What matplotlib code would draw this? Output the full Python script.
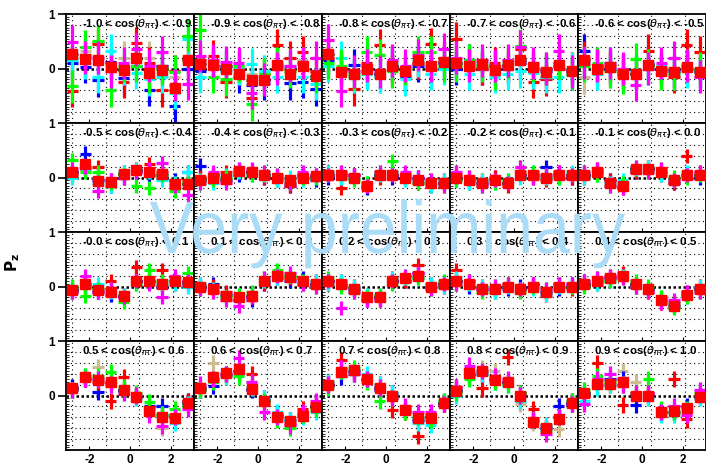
import numpy as np
import matplotlib.pyplot as plt
from matplotlib.ticker import MultipleLocator
from matplotlib.textpath import TextPath
from matplotlib.patches import PathPatch
from matplotlib.font_manager import FontProperties
from matplotlib.transforms import Affine2D, IdentityTransform

plt.rcParams['font.family'] = ['Liberation Sans', 'DejaVu Sans']
plt.rcParams['mathtext.fontset'] = 'dejavusans'

# cos(theta) slice bounds, one panel each (row-major, 4 x 5)
cos_lo = ['-1.0', '-0.9', '-0.8', '-0.7', '-0.6',
          '-0.5', '-0.4', '-0.3', '-0.2', '-0.1',
          '-0.0', '0.1', '0.2', '0.3', '0.4',
          '0.5', '0.6', '0.7', '0.8', '0.9']
cos_hi = ['-0.9', '-0.8', '-0.7', '-0.6', '-0.5',
          '-0.4', '-0.3', '-0.2', '-0.1', '0.0',
          '0.1', '0.2', '0.3', '0.4', '0.5',
          '0.6', '0.7', '0.8', '0.9', '1.0']

# combined Pz per phi bin (red squares)
pz_comb = [
    [0.27, 0.17, 0.16, 0.03, -0.03, 0.20, -0.09, -0.03, -0.35, 0.15],
    [0.09, 0.06, 0.00, -0.11, -0.22, -0.21, 0.06, -0.10, 0.04, -0.13],
    [0.27, -0.07, -0.11, 0.00, -0.10, 0.05, -0.05, 0.15, 0.05, 0.12],
    [0.10, 0.05, 0.08, -0.02, 0.06, 0.15, 0.02, -0.07, 0.06, -0.05],
    [0.16, 0.00, 0.02, -0.11, -0.11, 0.07, -0.04, -0.07, 0.02, -0.07],
    [0.10, 0.25, -0.06, -0.09, 0.07, 0.13, 0.10, 0.07, -0.12, -0.12],
    [-0.05, 0.00, -0.02, 0.12, 0.10, 0.05, 0.00, -0.05, 0.00, 0.02],
    [0.05, 0.05, 0.00, -0.15, 0.05, 0.05, 0.00, -0.05, -0.10, -0.10],
    [0.00, -0.05, -0.10, -0.05, -0.10, 0.05, 0.05, 0.00, 0.05, 0.05],
    [0.05, 0.10, -0.10, -0.15, 0.15, 0.15, 0.10, -0.05, 0.05, 0.05],
    [-0.07, 0.05, -0.07, -0.10, -0.18, 0.10, 0.11, 0.04, 0.10, 0.08],
    [0.00, -0.05, -0.17, -0.20, -0.18, 0.10, 0.20, 0.17, 0.10, 0.05],
    [0.10, 0.05, -0.05, -0.20, -0.20, 0.10, 0.15, 0.20, 0.00, 0.05],
    [0.10, 0.05, -0.05, -0.05, 0.00, -0.05, 0.00, -0.10, 0.00, 0.00],
    [0.05, 0.10, 0.15, 0.20, 0.05, -0.05, -0.25, -0.35, -0.15, -0.05],
    [0.14, 0.34, 0.29, 0.25, 0.10, -0.03, -0.28, -0.39, -0.41, -0.14],
    [0.14, 0.34, 0.41, 0.48, 0.12, -0.10, -0.39, -0.46, -0.37, -0.22],
    [0.19, 0.43, 0.46, 0.31, 0.14, 0.00, -0.26, -0.41, -0.41, -0.14],
    [0.09, 0.41, 0.45, 0.29, 0.24, 0.00, -0.49, -0.60, -0.43, -0.14],
    [0.04, 0.22, 0.22, 0.25, 0.00, 0.00, -0.31, -0.29, -0.23, -0.03],
]

# individual samples
pz_red = [
    [-0.41, 0.25, 0.45, 0.10, -0.25, 0.46, 0.10, -0.40, -0.05, 0.20],
    [0.15, 0.23, -0.25, 0.00, -0.54, -0.10, 0.43, 0.20, 0.30, -0.05],
    [0.20, -0.05, -0.38, 0.10, 0.43, 0.00, -0.10, 0.10, 0.45, 0.20],
    [0.55, 0.10, 0.00, 0.10, 0.05, 0.35, -0.25, -0.20, 0.10, 0.00],
    [0.20, 0.00, 0.05, -0.05, -0.10, 0.33, 0.00, -0.15, 0.43, 0.30],
    [0.05, 0.15, 0.20, -0.05, 0.10, 0.15, 0.25, 0.10, -0.10, -0.05],
    [0.00, 0.05, 0.10, 0.10, 0.10, 0.00, -0.05, -0.15, 0.05, 0.05],
    [0.10, -0.20, 0.05, -0.15, 0.00, 0.10, 0.05, -0.10, -0.15, -0.05],
    [0.05, -0.10, -0.05, 0.00, -0.15, 0.10, 0.00, -0.05, 0.10, 0.00],
    [0.00, 0.15, -0.05, -0.20, 0.10, 0.20, 0.05, -0.10, 0.40, 0.10],
    [-0.10, 0.00, -0.05, 0.10, -0.15, 0.36, 0.10, 0.30, 0.05, 0.10],
    [0.05, 0.00, -0.10, -0.25, -0.20, 0.05, 0.25, 0.15, 0.05, 0.10],
    [0.05, 0.10, 0.00, -0.15, -0.25, 0.15, 0.10, 0.40, 0.05, 0.00],
    [0.30, 0.10, 0.00, -0.10, 0.05, -0.05, 0.05, -0.15, 0.05, -0.05],
    [0.10, 0.05, 0.20, 0.25, 0.00, -0.10, -0.30, -0.30, -0.10, 0.00],
    [0.10, 0.30, 0.25, -0.10, 0.34, 0.00, -0.25, -0.35, -0.40, -0.10],
    [0.10, 0.30, 0.35, 0.45, 0.40, -0.15, -0.35, -0.50, -0.25, -0.15],
    [0.25, 0.65, 0.40, 0.30, 0.20, -0.27, -0.30, -0.74, -0.35, -0.15],
    [0.15, 0.35, 0.13, 0.30, 0.71, 0.05, -0.25, -0.55, -0.40, -0.10],
    [0.00, 0.59, 0.20, -0.18, 0.05, 0.05, -0.30, 0.30, -0.44, 0.00],
]
pz_green = [
    [-0.33, 0.40, 0.50, -0.40, 0.05, 0.05, -0.15, 0.00, -0.06, 0.60],
    [0.70, -0.15, -0.20, 0.05, -0.66, -0.10, 0.10, -0.05, 0.10, -0.15],
    [0.10, 0.05, -0.10, 0.30, 0.25, -0.05, 0.00, 0.30, 0.30, 0.05],
    [0.05, 0.15, 0.05, -0.10, 0.10, 0.42, 0.05, 0.00, 0.10, -0.10],
    [0.05, 0.10, -0.05, -0.16, 0.17, 0.05, -0.10, -0.10, 0.05, 0.00],
    [0.32, 0.10, 0.10, -0.10, 0.05, -0.15, -0.20, 0.05, -0.25, -0.10],
    [-0.10, -0.05, 0.00, 0.15, 0.05, 0.10, 0.05, -0.10, 0.00, 0.00],
    [0.05, 0.10, -0.05, -0.10, 0.10, 0.30, 0.05, -0.10, -0.05, -0.15],
    [-0.05, 0.00, -0.15, -0.10, -0.05, 0.20, 0.10, 0.05, 0.00, 0.05],
    [0.10, 0.05, -0.15, -0.10, 0.20, 0.10, 0.15, 0.00, 0.00, 0.05],
    [0.00, -0.18, -0.05, -0.05, -0.29, 0.05, 0.30, 0.10, 0.15, 0.25],
    [-0.05, -0.10, -0.20, -0.15, -0.10, 0.15, 0.30, 0.20, 0.10, 0.00],
    [0.15, 0.00, -0.10, -0.20, -0.15, 0.05, 0.20, 0.15, -0.05, 0.10],
    [0.05, 0.10, -0.10, 0.00, 0.05, -0.10, 0.00, -0.05, 0.05, 0.00],
    [0.00, 0.15, 0.10, 0.15, 0.10, 0.00, -0.20, -0.40, -0.20, -0.10],
    [0.10, 0.35, 0.35, 0.43, 0.15, 0.05, -0.12, -0.35, -0.25, -0.20],
    [0.10, 0.25, 0.40, 0.35, 0.25, -0.10, -0.45, -0.59, -0.35, -0.25],
    [0.15, 0.45, 0.50, 0.25, -0.10, -0.05, -0.30, -0.40, -0.45, -0.10],
    [0.05, 0.30, 0.45, 0.25, 0.20, 0.05, -0.45, -0.65, -0.40, -0.10],
    [0.10, 0.35, 0.25, 0.20, 0.05, 0.30, -0.25, -0.30, -0.25, 0.05],
]
pz_blue = [
    [0.10, 0.03, -0.22, 0.12, -0.17, 0.05, -0.39, 0.05, -0.68, 0.00],
    [-0.05, 0.05, 0.05, -0.15, -0.30, -0.27, 0.05, -0.27, -0.25, -0.38],
    [0.15, 0.00, 0.06, -0.05, -0.10, 0.05, -0.15, 0.05, 0.00, 0.10],
    [0.00, 0.15, 0.00, 0.05, 0.00, 0.10, 0.00, -0.05, 0.05, -0.10],
    [0.33, 0.05, 0.00, -0.10, -0.05, 0.10, -0.05, -0.05, 0.00, -0.05],
    [0.10, 0.44, -0.05, -0.15, 0.00, 0.10, 0.05, 0.05, -0.05, 0.10],
    [0.22, 0.05, -0.05, 0.05, 0.10, 0.00, 0.00, -0.15, 0.05, -0.05],
    [0.00, 0.05, 0.05, -0.20, 0.05, 0.00, 0.00, 0.00, -0.10, -0.10],
    [0.00, -0.05, -0.10, 0.00, -0.10, 0.05, 0.05, 0.20, 0.05, 0.00],
    [0.05, 0.10, -0.05, -0.15, 0.10, 0.15, 0.10, -0.10, 0.05, 0.00],
    [-0.05, 0.05, -0.10, -0.15, -0.20, 0.10, 0.10, 0.00, 0.10, 0.05],
    [0.00, 0.05, -0.15, -0.25, -0.25, 0.05, 0.15, 0.10, 0.15, 0.05],
    [0.10, 0.05, -0.05, -0.25, -0.20, 0.10, 0.10, 0.25, 0.00, 0.05],
    [0.10, 0.00, -0.05, -0.05, -0.05, 0.00, 0.05, -0.10, -0.05, 0.05],
    [0.05, 0.10, 0.15, 0.20, 0.05, -0.05, -0.25, -0.35, -0.15, -0.05],
    [0.15, 0.30, 0.07, 0.25, 0.10, 0.00, -0.20, -0.20, -0.35, -0.10],
    [0.10, 0.17, 0.40, 0.45, 0.10, -0.05, -0.35, -0.45, -0.35, -0.20],
    [0.20, 0.35, 0.45, 0.30, 0.10, 0.05, -0.25, -0.45, -0.40, -0.15],
    [0.10, 0.40, 0.40, 0.30, 0.25, 0.05, -0.45, -0.60, -0.20, -0.15],
    [0.05, 0.20, 0.30, 0.30, -0.18, 0.00, -0.30, -0.30, -0.20, 0.00],
]
pz_cyan = [
    [0.15, 0.10, -0.15, 0.33, 0.00, -0.08, -0.20, -0.15, -0.45, 0.55],
    [-0.15, 0.10, -0.05, 0.00, 0.08, -0.05, -0.15, 0.05, -0.15, -0.28],
    [0.05, 0.20, -0.15, -0.10, -0.15, 0.10, -0.20, 0.15, -0.10, 0.00],
    [0.10, -0.10, 0.10, -0.15, -0.10, -0.05, -0.08, -0.15, -0.15, 0.00],
    [0.10, -0.10, 0.10, -0.05, -0.05, 0.00, 0.05, -0.10, -0.05, -0.05],
    [0.00, 0.15, -0.10, -0.15, 0.10, 0.15, 0.10, -0.05, -0.10, 0.10],
    [-0.05, -0.10, 0.05, 0.10, 0.05, 0.05, -0.05, 0.00, -0.05, 0.05],
    [0.10, 0.00, 0.00, -0.10, 0.05, 0.10, -0.05, -0.05, -0.15, -0.05],
    [-0.05, -0.10, -0.05, -0.10, -0.05, 0.00, 0.10, 0.00, 0.00, 0.10],
    [0.00, 0.05, -0.10, -0.05, 0.15, 0.20, 0.05, -0.05, 0.10, 0.05],
    [-0.10, 0.00, 0.05, -0.10, -0.15, 0.05, 0.15, 0.05, 0.05, 0.00],
    [0.05, -0.05, -0.20, -0.15, -0.15, 0.10, 0.15, 0.20, 0.05, 0.10],
    [0.05, 0.10, 0.00, -0.15, -0.15, 0.15, 0.15, 0.15, 0.05, 0.00],
    [0.15, 0.05, 0.00, -0.10, 0.00, -0.05, -0.05, -0.15, 0.00, 0.00],
    [0.10, 0.05, 0.10, 0.20, 0.00, -0.05, -0.20, -0.30, -0.20, 0.00],
    [0.10, 0.35, 0.30, 0.20, 0.05, -0.05, -0.30, -0.35, -0.50, -0.15],
    [0.10, 0.30, 0.35, 0.40, 0.15, -0.05, -0.30, -0.45, -0.40, -0.30],
    [0.25, 0.45, 0.40, 0.40, 0.20, 0.05, -0.25, -0.50, -0.54, -0.10],
    [0.00, 0.45, 0.40, 0.25, 0.20, -0.10, -0.45, -0.55, -0.40, -0.10],
    [-0.10, 0.15, 0.20, 0.20, 0.05, -0.05, -0.35, -0.35, -0.28, -0.05],
]
pz_magenta = [
    [0.49, 0.20, 0.20, -0.05, 0.10, 0.35, 0.05, 0.30, -0.30, -0.28],
    [0.23, 0.15, 0.12, 0.10, -0.45, -0.20, 0.00, 0.05, 0.10, 0.20],
    [0.52, -0.41, -0.05, 0.05, -0.05, 0.15, 0.05, 0.25, 0.05, 0.35],
    [0.20, 0.05, 0.15, 0.05, 0.15, 0.40, 0.10, 0.00, 0.33, -0.05],
    [0.10, 0.05, 0.10, 0.00, -0.30, 0.00, 0.10, 0.20, 0.05, -0.15],
    [0.15, 0.20, -0.24, -0.05, 0.00, 0.10, 0.15, 0.26, -0.15, -0.33],
    [-0.10, 0.10, -0.10, 0.15, 0.15, 0.10, 0.05, -0.10, 0.10, 0.05],
    [0.05, 0.10, 0.05, -0.15, 0.10, 0.05, 0.10, 0.00, -0.05, -0.15],
    [0.10, 0.00, -0.15, -0.05, -0.10, 0.20, 0.00, 0.05, 0.10, 0.05],
    [0.10, 0.15, -0.15, -0.20, 0.20, 0.10, 0.15, -0.05, 0.05, 0.10],
    [-0.10, 0.20, -0.10, -0.05, -0.20, 0.10, 0.05, -0.20, 0.20, 0.10],
    [-0.05, -0.10, -0.25, -0.35, -0.20, 0.15, 0.20, 0.25, 0.05, 0.00],
    [0.10, -0.40, -0.10, -0.25, -0.25, 0.10, 0.20, 0.25, -0.05, 0.05],
    [0.05, 0.10, -0.05, 0.00, 0.05, -0.05, 0.05, -0.05, 0.05, 0.05],
    [0.10, 0.15, 0.20, 0.15, 0.00, -0.10, -0.30, -0.25, -0.10, -0.10],
    [0.10, 0.30, 0.30, 0.20, 0.05, 0.00, -0.35, -0.56, -0.40, -0.25],
    [0.20, 0.30, 0.40, 0.68, 0.25, -0.30, -0.40, -0.55, -0.30, -0.10],
    [0.20, 0.50, 0.40, 0.30, 0.15, -0.05, -0.20, -0.30, -0.30, -0.15],
    [0.15, 0.55, 0.45, 0.35, 0.30, 0.00, -0.45, -0.70, -0.40, -0.15],
    [-0.15, 0.30, 0.40, 0.20, 0.05, 0.05, -0.30, -0.20, -0.35, 0.10],
]
pz_tan = [
    [0.20, 0.33, 0.49, 0.05, 0.20, 0.15, 0.20, 0.05, -0.15, 0.10],
    [0.10, 0.05, 0.05, -0.10, -0.10, -0.05, 0.10, -0.05, 0.15, -0.05],
    [0.25, -0.10, -0.15, 0.00, -0.15, 0.05, -0.05, 0.10, 0.10, 0.15],
    [0.10, 0.05, 0.05, 0.00, 0.05, 0.10, 0.05, -0.05, 0.05, 0.00],
    [-0.16, 0.05, -0.05, -0.05, -0.10, 0.05, 0.00, -0.05, 0.05, 0.00],
    [0.05, 0.20, 0.00, -0.05, 0.05, 0.10, 0.05, 0.05, -0.05, -0.10],
    [0.00, 0.00, 0.00, 0.10, 0.10, 0.05, 0.00, -0.05, 0.00, 0.00],
    [0.05, 0.05, 0.00, -0.10, 0.05, 0.05, 0.00, -0.05, -0.10, -0.10],
    [0.00, -0.05, -0.10, -0.05, -0.10, 0.05, 0.05, 0.00, 0.05, 0.05],
    [0.05, 0.10, -0.10, -0.10, 0.15, 0.15, 0.10, -0.05, 0.05, 0.05],
    [-0.05, 0.05, -0.05, -0.10, -0.15, 0.10, 0.10, 0.05, 0.10, 0.05],
    [0.00, -0.05, -0.15, -0.20, -0.15, 0.10, 0.20, 0.15, 0.10, 0.05],
    [0.10, 0.05, -0.05, -0.20, -0.20, 0.10, 0.15, 0.20, 0.00, 0.05],
    [0.10, 0.05, -0.05, -0.05, 0.00, -0.05, 0.00, -0.10, 0.00, 0.00],
    [0.05, 0.10, 0.15, 0.20, 0.05, -0.05, -0.25, -0.35, -0.15, -0.05],
    [0.15, 0.35, 0.52, 0.25, 0.10, 0.00, -0.30, -0.60, -0.45, -0.15],
    [0.15, 0.59, 0.40, 0.45, 0.15, -0.10, -0.35, -0.45, -0.35, -0.20],
    [0.20, 0.50, 0.45, 0.30, 0.15, 0.00, -0.30, -0.45, -0.45, -0.15],
    [0.10, 0.40, 0.50, 0.45, 0.25, -0.15, -0.50, -0.60, -0.62, -0.15],
    [0.00, 0.25, 0.25, 0.45, 0.25, 0.00, -0.30, -0.30, -0.25, 0.00],
]

# typical statistical error of the single samples, per row of panels
pz_err_row = [0.30, 0.13, 0.13, 0.15]

# drawing order, bottom to top
samples = [
    (pz_tan, '#cbbd8f'),
    (pz_blue, '#0000ff'),
    (pz_red, '#ff0000'),
    (pz_cyan, '#00ffff'),
    (pz_green, '#00ff00'),
    (pz_magenta, '#ff00ff'),
]

phi_edges = np.linspace(-np.pi, np.pi, 11)
phi = 0.5 * (phi_edges[1:] + phi_edges[:-1])
half = 0.27

W, H = 706, 469
left, top = 66, 14
pw, ph = 128, 109

fig = plt.figure(figsize=(W / 100, H / 100), dpi=100)

for k in range(20):
    r, c = divmod(k, 5)
    ax = fig.add_axes([(left + c * pw) / W, 1 - (top + (r + 1) * ph) / H,
                       pw / W, ph / H])
    ax.set_xlim(-np.pi, np.pi)
    ax.set_ylim(-1, 1)

    # dotted grid and zero line
    for g in [-0.8, -0.6, -0.4, -0.2, 0.2, 0.4, 0.6, 0.8]:
        ax.axhline(g, color='k', lw=0.8, ls=(0, (1, 3)), zorder=1)
    for g in [-2.85, -1.2, 0.45, 2.1]:
        ax.axvline(g, color='k', lw=0.8, ls=(0, (1, 3)), zorder=1)
    ax.axhline(0, color='k', lw=1.8, ls=(0, (1, 1)), zorder=1)

    err = pz_err_row[r]
    for vals, col in samples:
        ax.errorbar(phi, vals[k], xerr=half, yerr=err, fmt='none',
                    ecolor=col, elinewidth=2.3, capsize=0, zorder=2)
    ax.errorbar(phi, pz_comb[k], xerr=0.26, yerr=0.04, fmt='none',
                ecolor='k', elinewidth=2.0, capsize=0, zorder=3)
    ax.plot(phi, pz_comb[k], 's', color='#ff0000', ms=7.3, mec='#ff0000',
            zorder=4)

    ax.text(16 / pw, 1 - 10 / ph,
            cos_lo[k] + r' < cos($\theta_{\pi\tau}$) < ' + cos_hi[k],
            transform=ax.transAxes, ha='left', va='center',
            fontsize=8.2, fontweight='bold', zorder=5)

    for s in ax.spines.values():
        s.set_linewidth(1.3)
    ax.set_yticks([0, 1])
    ax.yaxis.set_minor_locator(MultipleLocator(0.05))
    ax.tick_params(axis='y', which='minor', direction='in', length=2.5,
                   width=0.6)
    ax.set_xticks([-2, 0, 2])
    ax.tick_params(axis='x', which='major', direction='in', length=3,
                   width=0.8)
    if c == 0:
        ax.tick_params(axis='y', which='major', direction='out', length=6,
                       width=1.2, labelsize=8.5, pad=2)
        ax.set_yticklabels(['0', '1'], fontweight='bold')
    else:
        ax.tick_params(axis='y', which='major', length=0, labelleft=False)
    if r == 3:
        ax.tick_params(axis='x', labelsize=8.5, pad=3)
        ax.set_xticklabels(['-2', '0', '2'], fontweight='bold')
    else:
        ax.tick_params(axis='x', labelbottom=False)

fig.text(13 / W, 1 - 262 / H, r'$\mathbf{P_z}$', rotation=90,
         ha='center', va='center', fontsize=11)

# watermark, stretched to the drawn box (pixels: x 150..625, baseline 253)
wm = TextPath((0, 0), 'Very preliminary', size=1,
              prop=FontProperties(family='Liberation Sans'))
ext = wm.get_extents()
sx = 475 / ext.width
sy = sx * 1.12
tr = Affine2D().translate(-ext.x0, 0).scale(sx, sy).translate(150, H - 253)
fig.add_artist(PathPatch(wm, transform=tr + IdentityTransform(),
                         facecolor='#aadcf8', edgecolor='none', zorder=100))

fig.savefig('out.png', dpi=100)
